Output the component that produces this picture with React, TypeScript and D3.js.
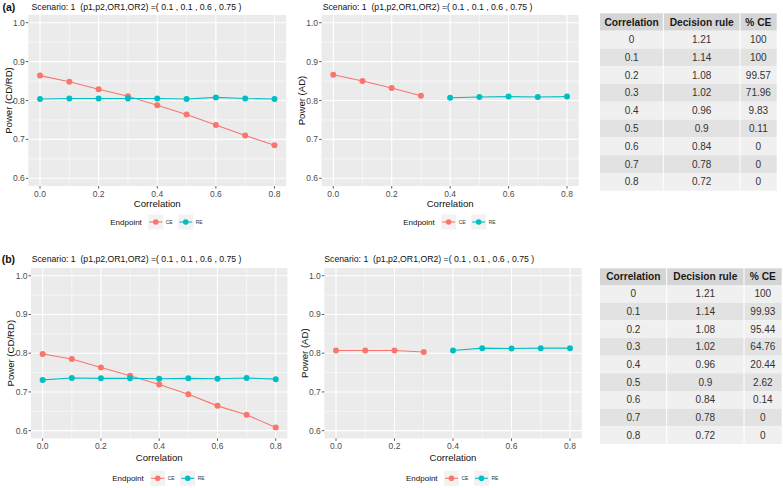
import React from "react";
import * as d3 from "d3";

// correlation grid used on the x axis
const correlation = [0, 0.1, 0.2, 0.3, 0.4, 0.5, 0.6, 0.7, 0.8];
const adCorrCE = [0, 0.1, 0.2, 0.3];
const adCorrRE = [0.4, 0.5, 0.6, 0.7, 0.8];

// (a) power values
const aCeCdrd = [0.864, 0.848, 0.829, 0.811, 0.788, 0.764, 0.737, 0.71, 0.685];
const aReCdrd = [0.804, 0.805, 0.805, 0.805, 0.805, 0.804, 0.808, 0.805, 0.804];
const aCeAd = [0.866, 0.85, 0.832, 0.812];
const aReAd = [0.807, 0.809, 0.81, 0.809, 0.81];

// (b) power values
const bCeCdrd = [0.798, 0.785, 0.763, 0.742, 0.719, 0.694, 0.664, 0.641, 0.608];
const bReCdrd = [0.731, 0.736, 0.735, 0.735, 0.734, 0.735, 0.734, 0.736, 0.733];
const bCeAd = [0.807, 0.807, 0.807, 0.803];
const bReAd = [0.807, 0.813, 0.812, 0.813, 0.813];

// tables
const tableHeader = ["Correlation", "Decision rule", "% CE"];
const tableCorr = ["0", "0.1", "0.2", "0.3", "0.4", "0.5", "0.6", "0.7", "0.8"];
const decisionRule = ["1.21", "1.14", "1.08", "1.02", "0.96", "0.9", "0.84", "0.78", "0.72"];
const aPctCE = ["100", "100", "99.57", "71.96", "9.83", "0.11", "0", "0", "0"];
const bPctCE = ["100", "99.93", "95.44", "64.76", "20.44", "2.62", "0.14", "0", "0"];

const xTicks = [0, 0.2, 0.4, 0.6, 0.8];
const yTicks = [0.6, 0.7, 0.8, 0.9, 1.0];
const title = "Scenario: 1  (p1,p2,OR1,OR2) =( 0.1 , 0.1 , 0.6 , 0.75 )";

const FONT = "'Liberation Sans', Arial, Helvetica, sans-serif";
const CE_COLOR = "#F8766D";
const RE_COLOR = "#00BFC4";

type Series = { name: string; color: string; xs: number[]; ys: number[] };

type PlotProps = {
  left: number;
  right: number;
  top: number;
  bottom: number;
  titleX: number;
  titleY: number;
  yLabel: string;
  yLabelX: number;
  tickLabelY: number;
  xTitleY: number;
  legendY: number;
  series: Series[];
};

const Plot = (p: PlotProps) => {
  const x = d3.scaleLinear().domain([-0.04, 0.84]).range([p.left, p.right]);
  const y = d3.scaleLinear().domain([0.58, 1.02]).range([p.bottom, p.top]);
  const xMinor = d3.pairs(xTicks).map(([a, b]) => (a + b) / 2);
  const yMinor = d3.pairs(yTicks).map(([a, b]) => (a + b) / 2);
  const line = d3
    .line<[number, number]>()
    .x((d) => x(d[0]))
    .y((d) => y(d[1]));
  const cx = (p.left + p.right) / 2;
  const cy = (p.top + p.bottom) / 2;

  return (
    <g fontFamily={FONT}>
      <text x={p.titleX} y={p.titleY} fontSize={8.7} fill="#111" xmlSpace="preserve">
        {title}
      </text>
      <rect x={p.left} y={p.top} width={p.right - p.left} height={p.bottom - p.top} fill="#EBEBEB" />
      {yMinor.map((v) => (
        <line key={"ym" + v} x1={p.left} x2={p.right} y1={y(v)} y2={y(v)} stroke="#fff" strokeWidth={0.55} />
      ))}
      {xMinor.map((v) => (
        <line key={"xm" + v} x1={x(v)} x2={x(v)} y1={p.top} y2={p.bottom} stroke="#fff" strokeWidth={0.55} />
      ))}
      {yTicks.map((v) => (
        <line key={"yM" + v} x1={p.left} x2={p.right} y1={y(v)} y2={y(v)} stroke="#fff" strokeWidth={1.1} />
      ))}
      {xTicks.map((v) => (
        <line key={"xM" + v} x1={x(v)} x2={x(v)} y1={p.top} y2={p.bottom} stroke="#fff" strokeWidth={1.1} />
      ))}
      {/* axis ticks and labels */}
      {yTicks.map((v) => (
        <g key={"yt" + v}>
          <line x1={p.left - 2.5} x2={p.left} y1={y(v)} y2={y(v)} stroke="#333" strokeWidth={0.8} />
          <text x={p.left - 3.5} y={y(v) + 3} fontSize={8.5} fill="#4D4D4D" textAnchor="end">
            {d3.format(".1f")(v)}
          </text>
        </g>
      ))}
      {xTicks.map((v) => (
        <g key={"xt" + v}>
          <line x1={x(v)} x2={x(v)} y1={p.bottom} y2={p.bottom + 2.5} stroke="#333" strokeWidth={0.8} />
          <text x={x(v)} y={p.tickLabelY} fontSize={8.5} fill="#4D4D4D" textAnchor="middle">
            {d3.format(".1f")(v)}
          </text>
        </g>
      ))}
      <text x={cx} y={p.xTitleY} fontSize={9.6} fill="#111" textAnchor="middle">
        Correlation
      </text>
      <text
        transform={`translate(${p.yLabelX},${cy}) rotate(-90)`}
        fontSize={9.6}
        fill="#111"
        textAnchor="middle"
      >
        {p.yLabel}
      </text>
      {/* lines first, then points, like ggplot layers */}
      {p.series.map((s) => (
        <path
          key={"l" + s.name}
          d={line(s.xs.map((v, i) => [v, s.ys[i]] as [number, number])) || ""}
          fill="none"
          stroke={s.color}
          strokeWidth={1.1}
        />
      ))}
      {p.series.map((s) =>
        s.xs.map((v, i) => <circle key={s.name + i} cx={x(v)} cy={y(s.ys[i])} r={3} fill={s.color} />)
      )}
      {/* legend */}
      <g transform={`translate(${cx},${p.legendY})`}>
        <text x={-47} y={3} fontSize={8} fill="#111">
          Endpoint
        </text>
        {[
          { name: "CE", color: CE_COLOR, k: -9 },
          { name: "RE", color: RE_COLOR, k: 21 },
        ].map((e) => (
          <g key={e.name}>
            <rect x={e.k} y={-7.5} width={15} height={15} fill="#F2F2F2" />
            <line x1={e.k + 1} x2={e.k + 14} y1={0} y2={0} stroke={e.color} strokeWidth={1.1} />
            <circle cx={e.k + 7.5} cy={0} r={2.8} fill={e.color} />
            <text x={e.k + 17.5} y={1.8} fontSize={5} fill="#333">
              {e.name}
            </text>
          </g>
        ))}
      </g>
    </g>
  );
};

type TableProps = { cols: number[]; top: number; headerBottom: number; rowH: number; pct: string[] };

const Table = ({ cols, top, headerBottom, rowH, pct }: TableProps) => {
  const rows = tableCorr.map((c, i) => [c, decisionRule[i], pct[i]]);
  const mid = (j: number) => (cols[j] + cols[j + 1]) / 2;
  return (
    <g fontFamily={FONT}>
      <rect x={cols[0]} y={top} width={cols[3] - cols[0]} height={headerBottom - top} fill="#D5D5D5" />
      {tableHeader.map((h, j) => (
        <text
          key={h}
          x={mid(j)}
          y={(top + headerBottom) / 2 + 3.6}
          fontSize={10.2}
          fontWeight="bold"
          fill="#1A1A1A"
          textAnchor="middle"
        >
          {h}
        </text>
      ))}
      {rows.map((r, i) => {
        const y0 = headerBottom + i * rowH;
        return (
          <g key={i}>
            <rect x={cols[0]} y={y0} width={cols[3] - cols[0]} height={rowH} fill={i % 2 === 0 ? "#F0F0F0" : "#E2E2E2"} />
            {r.map((t, j) => (
              <text key={j} x={mid(j)} y={y0 + rowH / 2 + 3.5} fontSize={10} fill="#333" textAnchor="middle">
                {t}
              </text>
            ))}
          </g>
        );
      })}
      {[cols[1], cols[2]].map((cx) => (
        <line key={cx} x1={cx} x2={cx} y1={top} y2={headerBottom + rows.length * rowH} stroke="#fff" strokeWidth={1} />
      ))}
    </g>
  );
};

export default function App() {
  return (
    <div>
      <style>{`body{margin:0}`}</style>
      <svg width={783} height={488} style={{ display: "block", background: "#fff" }}>
        <text x={2.5} y={11} fontFamily={FONT} fontSize={10.5} fontWeight="bold" fill="#111">
          (a)
        </text>
        <text x={1.7} y={262.5} fontFamily={FONT} fontSize={10.5} fontWeight="bold" fill="#111">
          (b)
        </text>
        <Plot
          left={28.3}
          right={286.2}
          top={14.9}
          bottom={186.1}
          titleX={31.5}
          titleY={10.2}
          yLabel="Power (CD/RD)"
          yLabelX={11.5}
          tickLabelY={196.5}
          xTitleY={207.3}
          legendY={222}
          series={[
            { name: "CE", color: CE_COLOR, xs: correlation, ys: aCeCdrd },
            { name: "RE", color: RE_COLOR, xs: correlation, ys: aReCdrd },
          ]}
        />
        <Plot
          left={321.6}
          right={578.7}
          top={14.9}
          bottom={186.1}
          titleX={322.7}
          titleY={10.2}
          yLabel="Power (AD)"
          yLabelX={304.5}
          tickLabelY={196.5}
          xTitleY={207.3}
          legendY={222}
          series={[
            { name: "CE", color: CE_COLOR, xs: adCorrCE, ys: aCeAd },
            { name: "RE", color: RE_COLOR, xs: adCorrRE, ys: aReAd },
          ]}
        />
        <Plot
          left={31}
          right={287.4}
          top={268}
          bottom={438.4}
          titleX={31.7}
          titleY={261.8}
          yLabel="Power (CD/RD)"
          yLabelX={14}
          tickLabelY={449.3}
          xTitleY={460.7}
          legendY={478.3}
          series={[
            { name: "CE", color: CE_COLOR, xs: correlation, ys: bCeCdrd },
            { name: "RE", color: RE_COLOR, xs: correlation, ys: bReCdrd },
          ]}
        />
        <Plot
          left={324.3}
          right={581.7}
          top={268}
          bottom={438.4}
          titleX={324.3}
          titleY={261.8}
          yLabel="Power (AD)"
          yLabelX={307.5}
          tickLabelY={449.3}
          xTitleY={460.7}
          legendY={478.3}
          series={[
            { name: "CE", color: CE_COLOR, xs: adCorrCE, ys: bCeAd },
            { name: "RE", color: RE_COLOR, xs: adCorrRE, ys: bReAd },
          ]}
        />
        <Table cols={[600, 663.3, 740, 776.7]} top={13.3} headerBottom={30.7} rowH={17.78} pct={aPctCE} />
        <Table cols={[600, 666.7, 744, 781.7]} top={268.3} headerBottom={285} rowH={17.67} pct={bPctCE} />
      </svg>
    </div>
  );
}
